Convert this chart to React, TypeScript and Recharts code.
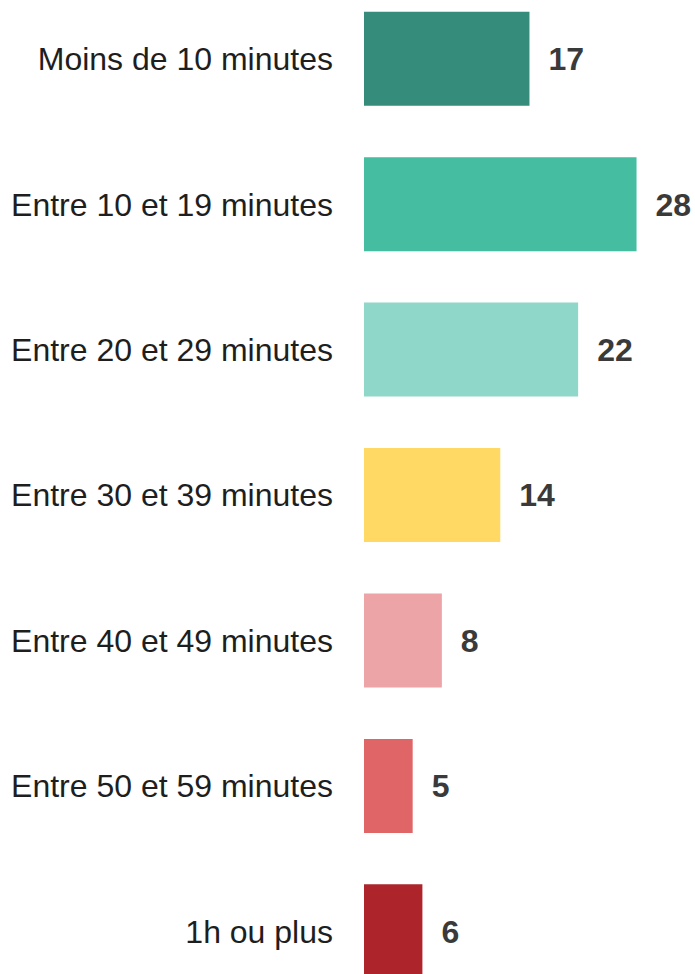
import React from "react";
import { BarChart, Bar, XAxis, YAxis, Cell, LabelList } from "recharts";

// Temps de trajet, en %
const categories = [
  "Moins de 10 minutes",
  "Entre 10 et 19 minutes",
  "Entre 20 et 29 minutes",
  "Entre 30 et 39 minutes",
  "Entre 40 et 49 minutes",
  "Entre 50 et 59 minutes",
  "1h ou plus",
];
const values = [17, 28, 22, 14, 8, 5, 6];
const barColors = [
  "#358c7a",
  "#45bda1",
  "#8fd7c9",
  "#ffd964",
  "#eca4a6",
  "#df6567",
  "#ae242b",
];

const FONT = "'Liberation Sans', Arial, sans-serif";

export default function App() {
  const data = categories.map((name, i) => ({ name, value: values[i] }));

  return (
    <div
      style={{
        position: "fixed",
        top: 0,
        left: 0,
        width: 695,
        height: 974,
        overflow: "hidden",
        background: "#fff",
      }}
    >
      <div style={{ marginTop: -14 }}>
        <BarChart
          width={695}
          height={1018}
          data={data}
          layout="vertical"
          margin={{ top: 0, right: 39, bottom: 0, left: 0 }}
          barCategoryGap="17.7%"
        >
          <XAxis type="number" domain={[0, 30]} hide />
          <YAxis
            type="category"
            dataKey="name"
            width={364}
            axisLine={false}
            tickLine={false}
            tickSize={0}
            tickMargin={31}
            interval={0}
            tick={{ fontSize: 32, fill: "#1e1e1e", fontFamily: FONT }}
          />
          <Bar dataKey="value" isAnimationActive={false}>
            {data.map((d, i) => (
              <Cell key={d.name} fill={barColors[i]} />
            ))}
            <LabelList
              dataKey="value"
              position="right"
              offset={19}
              style={{
                fontSize: 32,
                fontWeight: "bold",
                fill: "#3a3a3a",
                fontFamily: FONT,
              }}
            />
          </Bar>
        </BarChart>
      </div>
    </div>
  );
}
